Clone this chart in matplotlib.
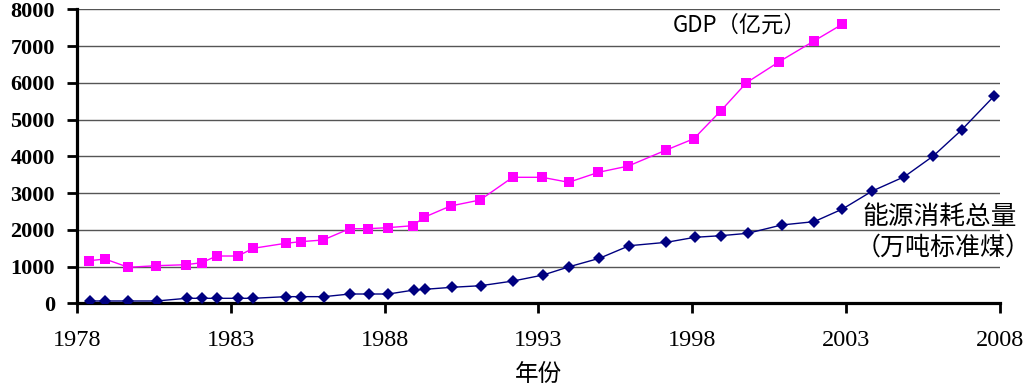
import matplotlib
matplotlib.use("Agg")
import matplotlib.pyplot as plt

# GDP (亿元)
gdp_years = [1978.40, 1978.91, 1979.67, 1980.57, 1981.53, 1982.05, 1982.54, 1983.23,
             1983.73, 1984.78, 1985.27, 1986.00, 1986.86, 1987.45, 1988.10, 1988.91,
             1989.28, 1990.14, 1991.10, 1992.16, 1993.12, 1993.98, 1994.95, 1995.92,
             1997.15, 1998.05, 1998.92, 1999.76, 2000.82, 2001.95, 2002.87]
gdp_values = [1159, 1205, 980, 1023, 1050, 1105, 1287, 1287,
              1497, 1633, 1677, 1723, 2030, 2030, 2058, 2112,
              2340, 2648, 2811, 3429, 3429, 3293, 3565, 3736,
              4171, 4479, 5233, 6003, 6574, 7137, 7592]

# 能源消耗总量 (万吨标准煤)
energy_years = [1978.42, 1978.91, 1979.67, 1980.59, 1981.56, 1982.07, 1982.56, 1983.24,
                1983.73, 1984.79, 1985.28, 1986.03, 1986.87, 1987.49, 1988.12, 1988.96,
                1989.31, 1990.18, 1991.12, 1992.18, 1993.15, 1994.00, 1994.98, 1995.95,
                1997.16, 1998.08, 1998.93, 1999.80, 2000.90, 2001.96, 2002.88, 2003.85,
                2004.89, 2005.83, 2006.75, 2007.81]
energy_values = [63, 63, 63, 63, 136, 136, 136, 136,
                 136, 181, 181, 181, 253, 253, 253, 362,
                 381, 435, 479, 607, 770, 996, 1225, 1567,
                 1660, 1796, 1840, 1905, 2131, 2222, 2566, 3056,
                 3445, 4008, 4716, 5641]

x_ticks = [1978, 1983, 1988, 1993, 1998, 2003, 2008]
y_ticks = [0, 1000, 2000, 3000, 4000, 5000, 6000, 7000, 8000]

cjk = ['Noto Sans CJK SC', 'DejaVu Sans']
serif = ['Liberation Serif', 'DejaVu Serif']

fig = plt.figure(figsize=(10.32, 3.89), dpi=100)
ax = fig.add_axes([0.0746, 0.2203, 0.8944, 0.7557])

ax.plot(gdp_years, gdp_values, color='#ff00ff', lw=1.0, marker='s',
        markersize=7, markeredgewidth=0, zorder=3)
ax.plot(energy_years, energy_values, color='#000080', lw=1.0, marker='D',
        markersize=6, markeredgewidth=0, zorder=3)

ax.set_xlim(1978, 2008)
ax.set_ylim(0, 8000)
ax.set_xticks(x_ticks)
ax.set_yticks(y_ticks)
ax.set_xticklabels([str(t) for t in x_ticks], family=serif, fontsize=17.5)
ax.set_yticklabels([str(t) for t in y_ticks], family=serif, fontsize=16,
                   fontweight='bold')

ax.grid(axis='y', color='#555555', lw=1.0)
ax.set_axisbelow(True)
for side in ['top', 'right']:
    ax.spines[side].set_visible(False)
for side in ['left', 'bottom']:
    ax.spines[side].set_linewidth(2.3)
    ax.spines[side].set_color('black')
ax.tick_params(axis='x', length=7, width=2, pad=12)
ax.tick_params(axis='y', length=7, width=2, pad=9)

ax.set_xlabel('年份', family=cjk, fontsize=17, labelpad=9)

ax.text(1997.37, 7573, 'GDP（亿元）', family=cjk, fontsize=16,
        ha='left', va='center')
ax.text(2003.52, 2348, '能源消耗总量', family=cjk, fontsize=18.5,
        ha='left', va='center', clip_on=False)
ax.text(2003.3, 1505, '（万吨标准煤）', family=cjk, fontsize=18,
        ha='left', va='center', clip_on=False)

fig.savefig('out.png', dpi=100)
